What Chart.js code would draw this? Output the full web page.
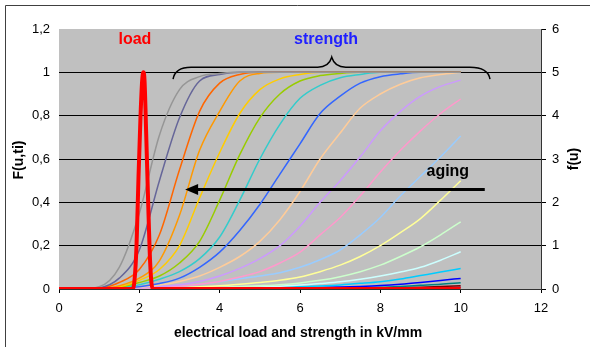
<!DOCTYPE html>
<html>
<head>
<meta charset="utf-8">
<style>
  html, body { margin: 0; padding: 0; background: #ffffff; }
  canvas { display: block; }
</style>
</head>
<body>
<canvas id="chart" width="590" height="347"></canvas>
<script src="https://cdn.jsdelivr.net/npm/chart.js@4.4.1/dist/chart.umd.min.js"></script>
<script>
const FONT = "Arial, 'Liberation Sans', sans-serif";

// x positions of the strength curves (kV/mm)
const strengthX = [0, 0.5, 1, 1.5, 2, 2.5, 3, 3.5, 4, 4.5, 5, 5.5, 6, 6.5, 7, 7.5, 8, 8.5, 9, 9.5, 10];

// strength distributions F(u,ti), most aged first
const grayCurve = [0, 0, 0.01, 0.1, 0.35, 0.71, 0.92, 0.98, 0.995, 1, 1, 1, 1, 1, 1, 1, 1, 1, 1, 1, 1];
const slateCurve = [0, 0, 0.005, 0.05, 0.18, 0.5, 0.79, 0.96, 0.99, 1, 1, 1, 1, 1, 1, 1, 1, 1, 1, 1, 1];
const orangeRedCurve = [0, 0, 0.003, 0.03, 0.09, 0.25, 0.55, 0.82, 0.95, 0.99, 1, 1, 1, 1, 1, 1, 1, 1, 1, 1, 1];
const orangeCurve = [0, 0, 0.002, 0.015, 0.05, 0.13, 0.34, 0.64, 0.82, 0.96, 0.995, 1, 1, 1, 1, 1, 1, 1, 1, 1, 1];
const goldCurve = [0, 0, 0.002, 0.01, 0.04, 0.09, 0.2, 0.42, 0.63, 0.81, 0.92, 0.97, 0.99, 1, 1, 1, 1, 1, 1, 1, 1];
const greenCurve = [0, 0, 0.002, 0.008, 0.03, 0.06, 0.12, 0.22, 0.41, 0.62, 0.79, 0.9, 0.96, 0.985, 0.995, 1, 1, 1, 1, 1, 1];
const turquoiseCurve = [0, 0, 0.002, 0.008, 0.02, 0.045, 0.08, 0.14, 0.24, 0.41, 0.6, 0.76, 0.88, 0.94, 0.975, 0.99, 1, 1, 1, 1, 1];
const royalBlueCurve = [0, 0, 0.001, 0.004, 0.01, 0.025, 0.05, 0.1, 0.17, 0.27, 0.39, 0.53, 0.67, 0.81, 0.89, 0.95, 0.98, 0.993, 1, 1, 1];
const peachCurve = [0, 0, 0.001, 0.003, 0.008, 0.018, 0.035, 0.06, 0.1, 0.15, 0.22, 0.32, 0.45, 0.6, 0.72, 0.835, 0.9, 0.945, 0.975, 0.99, 1];
const lavenderCurve = [0, 0, 0.001, 0.003, 0.006, 0.012, 0.02, 0.035, 0.06, 0.095, 0.14, 0.2, 0.29, 0.4, 0.5, 0.61, 0.73, 0.82, 0.89, 0.935, 0.964];
const pinkCurve = [0, 0, 0, 0.001, 0.003, 0.007, 0.013, 0.022, 0.035, 0.055, 0.08, 0.12, 0.17, 0.25, 0.33, 0.43, 0.54, 0.64, 0.73, 0.81, 0.877];
const lightBlueCurve = [0, 0, 0, 0.001, 0.003, 0.007, 0.013, 0.022, 0.033, 0.047, 0.06, 0.075, 0.1, 0.135, 0.18, 0.25, 0.33, 0.43, 0.52, 0.61, 0.706];
const lightYellowCurve = [0, 0, 0, 0, 0.001, 0.003, 0.006, 0.01, 0.015, 0.022, 0.03, 0.04, 0.055, 0.08, 0.11, 0.15, 0.2, 0.26, 0.325, 0.41, 0.5];
const lightGreenCurve = [0, 0, 0, 0, 0, 0.001, 0.003, 0.005, 0.008, 0.011, 0.015, 0.02, 0.028, 0.04, 0.057, 0.08, 0.11, 0.15, 0.195, 0.25, 0.31];
const paleCyanCurve = [0, 0, 0, 0, 0, 0, 0.001, 0.002, 0.004, 0.006, 0.009, 0.013, 0.018, 0.025, 0.033, 0.045, 0.06, 0.078, 0.1, 0.133, 0.172];
const skyBlueCurve = [0, 0, 0, 0, 0, 0, 0, 0.001, 0.002, 0.003, 0.005, 0.007, 0.01, 0.014, 0.019, 0.026, 0.034, 0.046, 0.062, 0.078, 0.095];
const blueCurve = [0, 0, 0, 0, 0, 0, 0, 0, 0.001, 0.001, 0.002, 0.003, 0.005, 0.007, 0.009, 0.012, 0.016, 0.022, 0.03, 0.039, 0.049];
const tealCurve = [0, 0, 0, 0, 0, 0, 0, 0, 0, 0.001, 0.001, 0.002, 0.003, 0.004, 0.005, 0.006, 0.008, 0.012, 0.017, 0.022, 0.029];
const darkRedCurve = [0, 0, 0, 0, 0, 0, 0, 0, 0, 0, 0, 0, 0.001, 0.001, 0.002, 0.003, 0.004, 0.006, 0.008, 0.011, 0.015];
const purpleCurve = [0, 0, 0, 0, 0, 0, 0, 0, 0, 0, 0, 0, 0, 0.001, 0.001, 0.002, 0.003, 0.004, 0.005, 0.006, 0.008];
const cyanCurve = [0, 0, 0, 0, 0, 0, 0, 0, 0, 0, 0, 0, 0, 0, 0, 0.001, 0.001, 0.002, 0.002, 0.003, 0.004];
const yellowCurve = [0, 0, 0, 0, 0, 0, 0, 0, 0, 0, 0, 0, 0, 0, 0, 0, 0.001, 0.001, 0.001, 0.002, 0.002];

// load density f(u)
const loadX = [0, 1.82, 1.88, 1.93, 1.98, 2.03, 2.07, 2.1, 2.13, 2.17, 2.22, 2.27, 2.33, 10];
const loadY = [0, 0, 0.2, 1.0, 2.6, 4.0, 4.8, 5.0, 4.8, 3.6, 2.0, 0.6, 0, 0];

const strengthSeries = [
  { color: "#969696", values: grayCurve },
  { color: "#666699", values: slateCurve },
  { color: "#ff6600", values: orangeRedCurve },
  { color: "#ff9900", values: orangeCurve },
  { color: "#ffcc00", values: goldCurve },
  { color: "#99cc00", values: greenCurve },
  { color: "#33cccc", values: turquoiseCurve },
  { color: "#3366ff", values: royalBlueCurve },
  { color: "#ffcc99", values: peachCurve },
  { color: "#cc99ff", values: lavenderCurve },
  { color: "#ff99cc", values: pinkCurve },
  { color: "#99ccff", values: lightBlueCurve },
  { color: "#ffff99", values: lightYellowCurve },
  { color: "#ccffcc", values: lightGreenCurve },
  { color: "#ccffff", values: paleCyanCurve },
  { color: "#00ccff", values: skyBlueCurve },
  { color: "#0000ff", values: blueCurve },
  { color: "#008080", values: tealCurve },
  { color: "#800000", values: darkRedCurve },
  { color: "#800080", values: purpleCurve },
  { color: "#00ffff", values: cyanCurve },
  { color: "#ffff00", values: yellowCurve },
];

function toPoints(xs, ys) {
  return xs.map((x, i) => ({ x: x, y: ys[i] }));
}

const datasets = [
  {
    label: "load",
    data: toPoints(loadX, loadY),
    yAxisID: "y2",
    borderColor: "#ff0000",
    borderWidth: 4,
    pointRadius: 0,
    cubicInterpolationMode: "monotone",
  },
];
strengthSeries.forEach((s) => {
  datasets.push({
    label: "strength",
    data: toPoints(strengthX, s.values),
    yAxisID: "y",
    borderColor: s.color,
    borderWidth: 1.5,
    pointRadius: 0,
    cubicInterpolationMode: "monotone",
  });
});

// background, frame, labels, brace and arrow
const decorations = {
  id: "decorations",
  beforeDraw(chart) {
    const a = chart.chartArea;
    const ctx = chart.ctx;
    ctx.save();
    ctx.fillStyle = "#c0c0c0";
    ctx.fillRect(a.left, a.top, a.right - a.left, a.bottom - a.top);
    ctx.restore();
  },
  afterDraw(chart) {
    const ctx = chart.ctx;
    const xs = chart.scales.x;
    const ys = chart.scales.y;
    const px = (v) => xs.getPixelForValue(v);
    const py = (v) => ys.getPixelForValue(v);
    ctx.save();

    // outer frame
    ctx.strokeStyle = "#404040";
    ctx.lineWidth = 1;
    ctx.beginPath();
    ctx.moveTo(5.5, 347);
    ctx.lineTo(5.5, 5.5);
    ctx.lineTo(590, 5.5);
    ctx.stroke();

    // annotations
    ctx.textAlign = "center";
    ctx.textBaseline = "alphabetic";
    ctx.font = "bold 16px " + FONT;
    ctx.fillStyle = "#ff0000";
    ctx.fillText("load", px(1.89), py(1.131));
    ctx.fillStyle = "#2020ff";
    ctx.fillText("strength", px(6.65), py(1.131));
    ctx.fillStyle = "#000000";
    ctx.fillText("aging", px(9.68), py(0.521));

    // brace over the strength curves
    const x1 = px(2.84), x2 = px(10.73), xm = px(6.79);
    const yTop = py(1.024), yEnd = py(0.969), yCusp = py(1.07);
    ctx.strokeStyle = "#000000";
    ctx.lineWidth = 1.5;
    ctx.beginPath();
    ctx.moveTo(x1, yEnd);
    ctx.quadraticCurveTo(x1 + 2, yTop, x1 + 18, yTop);
    ctx.lineTo(xm - 14, yTop);
    ctx.quadraticCurveTo(xm - 3, yTop, xm, yCusp);
    ctx.quadraticCurveTo(xm + 3, yTop, xm + 14, yTop);
    ctx.lineTo(x2 - 20, yTop);
    ctx.quadraticCurveTo(x2 - 2, yTop, x2, yEnd);
    ctx.stroke();

    // aging arrow
    const ay = py(0.459);
    const tip = px(3.14);
    ctx.lineWidth = 3;
    ctx.beginPath();
    ctx.moveTo(px(10.6), ay);
    ctx.lineTo(tip + 10, ay);
    ctx.stroke();
    ctx.fillStyle = "#000000";
    ctx.beginPath();
    ctx.moveTo(tip, ay);
    ctx.lineTo(tip + 13, ay - 5.5);
    ctx.lineTo(tip + 13, ay + 5.5);
    ctx.closePath();
    ctx.fill();

    // axis titles
    ctx.font = "bold 14px " + FONT;
    ctx.fillStyle = "#000000";
    ctx.fillText("electrical load and strength in kV/mm", 298, 337);
    ctx.translate(23, 160);
    ctx.rotate(-Math.PI / 2);
    ctx.fillText("F(u,ti)", 0, 0);
    ctx.setTransform(1, 0, 0, 1, 0, 0);
    ctx.translate(578, 159);
    ctx.rotate(-Math.PI / 2);
    ctx.fillText("f(u)", 0, 0);
    ctx.restore();
  },
};

const tickFont = { family: FONT, size: 13 };

new Chart(document.getElementById("chart").getContext("2d"), {
  type: "line",
  data: { datasets: datasets },
  plugins: [decorations],
  options: {
    responsive: false,
    animation: false,
    layout: { padding: { top: 29, left: 0, right: 0, bottom: 0 } },
    plugins: {
      legend: { display: false },
      tooltip: { enabled: false },
    },
    scales: {
      x: {
        type: "linear",
        position: "bottom",
        min: 0,
        max: 12,
        ticks: {
          stepSize: 2,
          color: "#000000",
          font: tickFont,
          padding: 8,
          maxRotation: 0,
        },
        grid: {
          drawOnChartArea: false,
          drawTicks: true,
          tickLength: 4,
          color: "#000000",
        },
        border: { display: true, color: "#333333", width: 1 },
        afterFit: (s) => { s.height = 58; },
      },
      y: {
        position: "left",
        min: 0,
        max: 1.2,
        ticks: {
          stepSize: 0.2,
          color: "#000000",
          font: tickFont,
          padding: 9,
          callback: (v) => String(Math.round(v * 10) / 10).replace(".", ","),
        },
        grid: {
          drawTicks: false,
          color: (c) => (c.tick && c.tick.value > 1.19 ? "rgba(0,0,0,0)" : "#000000"),
          lineWidth: 1,
        },
        border: { display: false },
        afterFit: (s) => { s.width = 59; },
      },
      y2: {
        position: "right",
        min: 0,
        max: 6,
        ticks: {
          stepSize: 1,
          color: "#000000",
          font: tickFont,
          padding: 6,
        },
        grid: {
          drawOnChartArea: false,
          drawTicks: true,
          tickLength: 5,
          color: "#000000",
        },
        border: { display: true, color: "#333333", width: 1 },
        afterFit: (s) => { s.width = 49; },
      },
    },
  },
});
</script>
</body>
</html>
